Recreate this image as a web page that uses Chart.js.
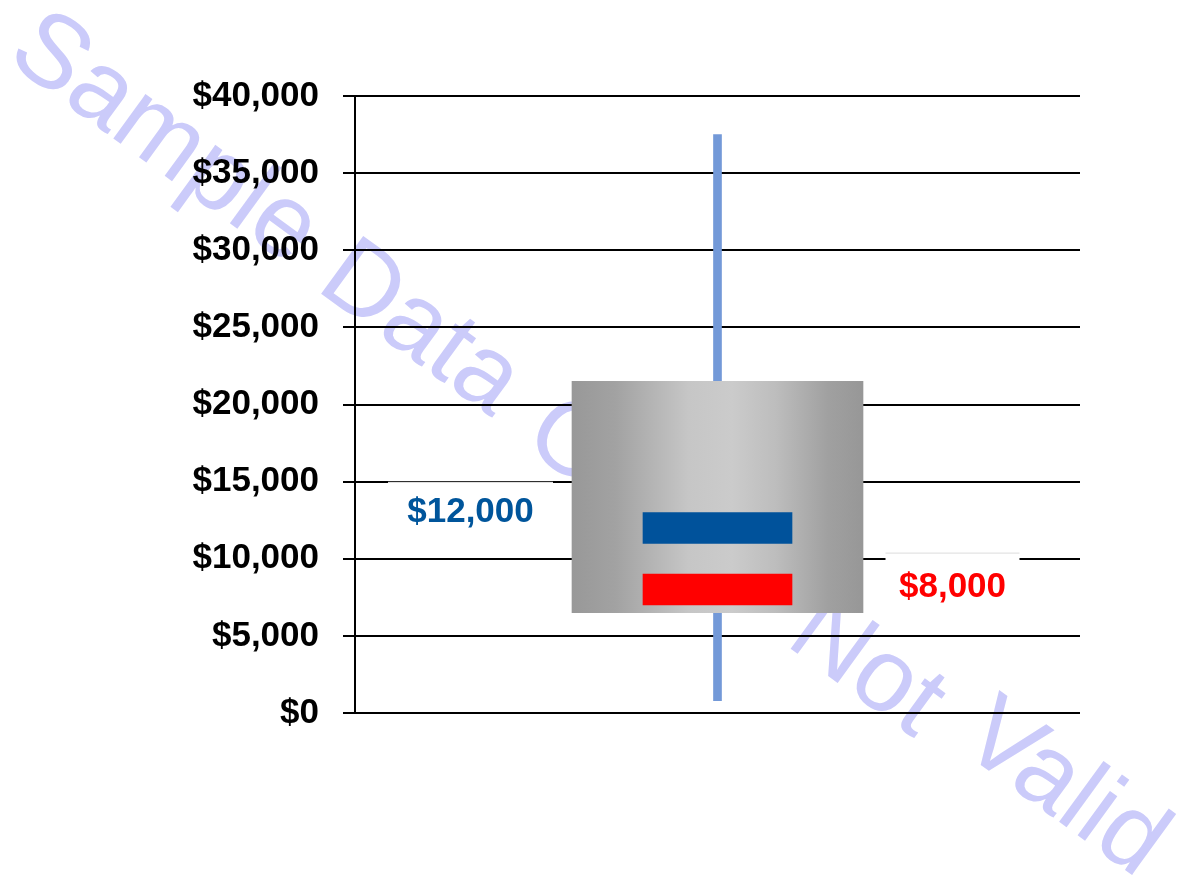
<!DOCTYPE html>
<html>
<head>
<meta charset="utf-8">
<script src="https://cdn.jsdelivr.net/npm/chart.js@4.4.1/dist/chart.umd.min.js"></script>
<style>
  html, body { margin: 0; padding: 0; background: #fff; }
  #wrap { width: 1180px; height: 885px; }
</style>
</head>
<body>
<div id="wrap"><canvas id="chart" width="1180" height="885"></canvas></div>
<script>
const categories = [''];
const whiskerRange = [800, 37500];
const boxRange = [6500, 21500];
const blueRange = [11000, 13000];
const redRange = [7000, 9000];
const tickValues = [0, 5000, 10000, 15000, 20000, 25000, 30000, 35000, 40000];
const tickLabels = ['$0', '$5,000', '$10,000', '$15,000', '$20,000', '$25,000', '$30,000', '$35,000', '$40,000'];
const labelTexts = ['$12,000', '$8,000'];
const labelValues = [12000, 8000];
const labelColors = ['#00559b', '#ff0000'];

const FONT = '"Liberation Sans", Arial, sans-serif';

// gray cylinder-like fill for the box
function boxFill(context) {
    const chart = context.chart;
    if (!chart.chartArea) return '#b0b0b0';
    const cx = chart.scales.x.getPixelForValue(0);
    const g = chart.ctx.createLinearGradient(cx - 146, 0, cx + 146, 0);
    g.addColorStop(0, '#989898');
    g.addColorStop(0.15, '#a2a2a2');
    g.addColorStop(0.4, '#c6c6c6');
    g.addColorStop(0.55, '#cbcbcb');
    g.addColorStop(0.7, '#bdbdbd');
    g.addColorStop(0.88, '#a0a0a0');
    g.addColorStop(1, '#979797');
    return g;
}

// diagonal watermark, one word at a time
const watermark = {
    id: 'watermark',
    beforeDraw(chart) {
        const c = chart.ctx;
        const words = [
            ['Sample', 164, 140],
            ['Data', 420, 330],
            ['Only', 624, 484],
            ['Not', 866, 668],
            ['Valid', 1064, 790]
        ];
        c.save();
        c.font = '104px ' + FONT;
        c.fillStyle = '#cbcbfa';
        c.textAlign = 'center';
        c.textBaseline = 'middle';
        words.forEach(([w, x, y]) => {
            c.save();
            c.translate(x, y);
            c.rotate(36 * Math.PI / 180);
            c.fillText(w, 0, 0);
            c.restore();
        });
        c.restore();
    }
};

const valueLabels = {
    id: 'valueLabels',
    afterDatasetsDraw(chart) {
        const c = chart.ctx;
        const y = chart.scales.y;
        const cx = chart.scales.x.getPixelForValue(0);
        const boxes = [
            { dx: -247, w: 165, dy: -28, h: 64, off: -18 },
            { dx: 235, w: 134, dy: -33, h: 56, off: -4 }
        ];
        c.save();
        c.font = 'bold 35px ' + FONT;
        c.textAlign = 'center';
        c.textBaseline = 'middle';
        labelTexts.forEach((t, i) => {
            const b = boxes[i];
            const tx = cx + b.dx;
            const ty = y.getPixelForValue(labelValues[i]) + b.off;
            c.fillStyle = '#fff';
            c.fillRect(tx - b.w / 2, ty + b.dy, b.w, b.h);
            c.strokeStyle = '#dcdcdc';
            c.lineWidth = 1;
            c.beginPath();
            c.moveTo(tx - b.w / 2, ty + b.dy + 0.5);
            c.lineTo(tx + b.w / 2, ty + b.dy + 0.5);
            c.stroke();
            c.fillStyle = labelColors[i];
            c.fillText(t, tx, ty + 2);
        });
        c.restore();
    }
};

new Chart(document.getElementById('chart'), {
    type: 'bar',
    data: {
        labels: categories,
        datasets: [
            { label: 'Range', data: [whiskerRange], backgroundColor: '#7399d8', barThickness: 8, grouped: false, order: 4 },
            { label: 'Middle', data: [boxRange], backgroundColor: boxFill, barThickness: 291, grouped: false, order: 3 },
            { label: 'Average', data: [blueRange], backgroundColor: '#00529b', barThickness: 149, grouped: false, order: 2 },
            { label: 'Median', data: [redRange], backgroundColor: '#ff0000', barThickness: 149, grouped: false, order: 1 }
        ]
    },
    options: {
        responsive: false,
        animation: false,
        layout: { padding: { left: 190, right: 100, top: 96, bottom: 172 } },
        plugins: {
            legend: { display: false },
            tooltip: { enabled: false }
        },
        scales: {
            x: { display: false },
            y: {
                min: 0,
                max: 40000,
                afterFit: (scale) => { scale.width = 165; },
                afterBuildTicks: (scale) => { scale.ticks = tickValues.map(v => ({ value: v })); },
                ticks: {
                    color: '#000',
                    padding: 24,
                    font: { family: FONT, size: 35, weight: 'bold' },
                    callback: (value) => tickLabels[tickValues.indexOf(value)]
                },
                grid: { color: '#000', lineWidth: 2, tickLength: 12, tickColor: '#000' },
                border: { color: '#000', width: 2 }
            }
        }
    },
    plugins: [watermark, valueLabels]
});
</script>
</body>
</html>
